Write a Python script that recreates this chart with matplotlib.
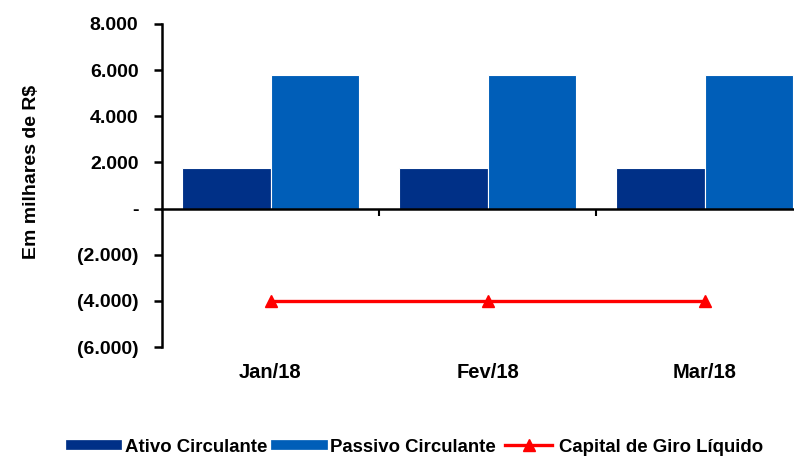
import matplotlib
matplotlib.use('Agg')
from matplotlib import pyplot as plt
from matplotlib.lines import Line2D
from matplotlib.ticker import FixedLocator
import numpy as np

months = ['Jan/18', 'Fev/18', 'Mar/18']
ativo_circulante = [1780, 1780, 1780]
passivo_circulante = [5780, 5780, 5780]
capital_giro = [-4000, -4000, -4000]

y_ticks = [8000, 6000, 4000, 2000, 0, -2000, -4000, -6000]
y_tick_labels = ['8.000', '6.000', '4.000', '2.000', '-', '(2.000)', '(4.000)', '(6.000)']

color_ativo = '#003087'
color_passivo = '#005EB8'
color_capital = '#FF0000'

plt.rcParams['font.family'] = ['Liberation Sans', 'DejaVu Sans']
plt.rcParams['font.weight'] = 'bold'

fig = plt.figure(figsize=(7.94, 4.57), dpi=100)
ax = fig.add_axes([162 / 794, 110 / 457, 651 / 794, 323 / 457])

x = np.arange(len(months))
bar_w = 0.41
ax.bar(x - bar_w / 2, ativo_circulante, bar_w, color=color_ativo, edgecolor='white', linewidth=0.8)
ax.bar(x + bar_w / 2, passivo_circulante, bar_w, color=color_passivo, edgecolor='white', linewidth=0.8)
ax.plot(x, capital_giro, color=color_capital, lw=2.4, marker='^', markersize=8)

ax.set_xlim(-0.5, 2.5)
ax.set_ylim(-6000, 8000)

ax.spines['top'].set_visible(False)
ax.spines['right'].set_visible(False)
ax.spines['left'].set_linewidth(1.8)
ax.spines['bottom'].set_position(('data', 0))
ax.spines['bottom'].set_linewidth(1.8)
ax.spines['left'].set_bounds(-6000, 8000)

ax.set_yticks(y_ticks)
ax.set_yticklabels(y_tick_labels, fontsize=14, fontweight='bold')
ax.tick_params(axis='y', direction='out', length=6, width=1.8, pad=11)

ax.set_xticks(x)
ax.set_xticklabels(months, fontsize=14.5, fontweight='bold')
ax.xaxis.set_minor_locator(FixedLocator([0.5, 1.5, 2.5]))
ax.tick_params(axis='x', which='major', length=0, pad=111)
ax.tick_params(axis='x', which='minor', direction='out', length=5, width=1.5)

fig.text(32 / 794, 1 - 172 / 457, 'Em milhares de R$', rotation=90, fontsize=14,
         fontweight='bold', ha='center', va='center')

handles = [
  Line2D([0], [0], color=color_ativo, lw=7),
  Line2D([0], [0], color=color_passivo, lw=7),
  Line2D([0], [0], color=color_capital, lw=2.4, marker='^', markersize=8),
]
labels = ['Ativo Circulante', 'Passivo Circulante', 'Capital de Giro Líquido']
fig.legend(handles, labels, loc='center left', bbox_to_anchor=(54 / 794, 1 - 447 / 457),
           ncol=3, frameon=False, handlelength=2.5, handletextpad=0.4,
           columnspacing=0.5, prop={'weight': 'bold', 'size': 13.4})

fig.savefig('out.png', dpi=100)
